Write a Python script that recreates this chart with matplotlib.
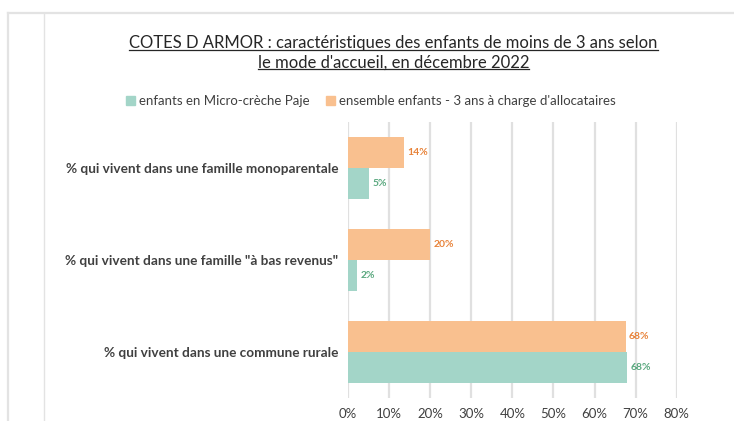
import matplotlib
matplotlib.use("Agg")
import matplotlib.pyplot as plt
from matplotlib.lines import Line2D
from matplotlib.patches import Patch
import numpy as np

plt.rcParams['font.family'] = ['Lato', 'DejaVu Sans']

# Data
categories = ['% qui vivent dans une famille monoparentale',
              '% qui vivent dans une famille "à bas revenus"',
              '% qui vivent dans une commune rurale']
micro_creche = [5.1, 2.3, 68.0]
ensemble = [13.6, 20.0, 67.6]
micro_labels = ['5%', '2%', '68%']
ensemble_labels = ['14%', '20%', '68%']
series_names = ['enfants en Micro-crèche Paje',
                'ensemble enfants - 3 ans à charge d\'allocataires']
xticks = [0, 10, 20, 30, 40, 50, 60, 70, 80]

teal = '#a3d5c8'
orange = '#f9c08f'
teal_txt = '#5aa87f'
orange_txt = '#e8833a'

fig = plt.figure(figsize=(7.34, 4.21), dpi=100)
ax = fig.add_axes([0.474, 0.0546, 0.448, 0.6556])

y = np.arange(len(categories))[::-1].astype(float)
h = 0.337
ax.barh(y - h / 2, micro_creche, height=h, color=teal, zorder=2)
ax.barh(y + h / 2, ensemble, height=h, color=orange, zorder=2)

for yi, v, lab in zip(y, micro_creche, micro_labels):
    ax.text(v + 0.8, yi - h / 2, lab, va='center', ha='left', fontsize=7.5,
            color=teal_txt, fontweight='bold')
for yi, v, lab in zip(y, ensemble, ensemble_labels):
    ax.text(v + 0.8, yi + h / 2, lab, va='center', ha='left', fontsize=7.5,
            color=orange_txt, fontweight='bold')

ax.set_xlim(0, 80)
ax.set_ylim(-0.5, 2.5)
ax.set_xticks(xticks)
ax.set_xticklabels([f'{t}%' for t in xticks], fontsize=9.5, color='#404040')
ax.set_yticks(y)
ax.set_yticklabels(categories, fontsize=9.8, color='#404040', fontweight='bold')
ax.tick_params(length=0, pad=7)
ax.tick_params(axis='y', pad=7)
ax.xaxis.grid(True, color='#e0e0e0', linewidth=1.6, zorder=0)
ax.set_axisbelow(True)
for s in ax.spines.values():
    s.set_visible(False)

# Title with underline
t1 = fig.text(0.536, 0.897, 'COTES D ARMOR : caractéristiques des enfants de moins de 3 ans selon',
              ha='center', va='center', fontsize=12, color='#262626')
t2 = fig.text(0.536, 0.851, 'le mode d\'accueil, en décembre 2022',
              ha='center', va='center', fontsize=12, color='#262626')

# Legend
handles = [Patch(color=teal), Patch(color=orange)]
fig.legend(handles, series_names, loc='center', bbox_to_anchor=(0.505, 0.76),
           ncol=2, frameon=False, fontsize=9.5, handlelength=0.7, handleheight=0.7,
           handletextpad=0.3, columnspacing=1.2, labelcolor='#404040')

# Frame lines around the chart
fc = '#e3e3e3'
fig.add_artist(Line2D([0.011, 1.0], [0.969, 0.969], color=fc, linewidth=1.6))
fig.add_artist(Line2D([0.011, 0.011], [0.0, 0.969], color=fc, linewidth=1.6))
fig.add_artist(Line2D([0.060, 0.060], [0.0, 0.967], color=fc, linewidth=1.0))

fig.canvas.draw()
r = fig.canvas.get_renderer()
inv = fig.transFigure.inverted()
for t in (t1, t2):
    bb = t.get_window_extent(r)
    (x0, y0), (x1, _) = inv.transform([(bb.x0, bb.y0), (bb.x1, bb.y1)])
    fig.add_artist(Line2D([x0, x1], [y0 + 0.003, y0 + 0.003], color='#262626', linewidth=0.9))

fig.savefig('out.png', dpi=100)
